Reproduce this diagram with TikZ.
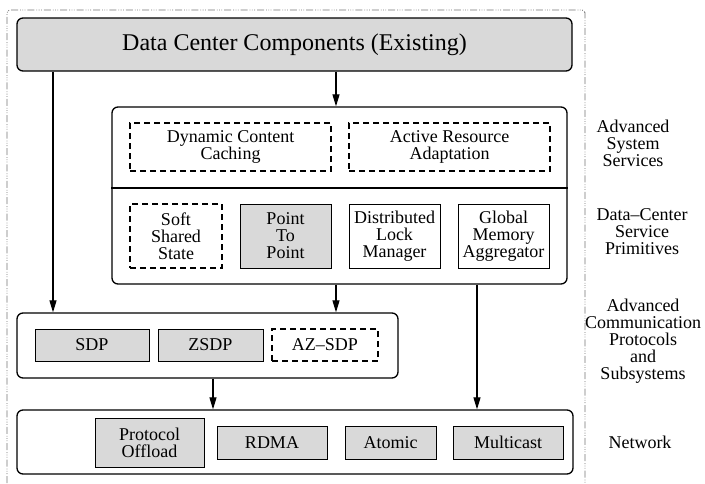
\documentclass[tikz,border=0pt]{standalone}
\usepackage{fontspec}
\setmainfont{Liberation Serif}
\usetikzlibrary{arrows.meta}
\definecolor{boxgray}{HTML}{D9D9D9}
\tikzset{
  lbl/.style={font=\fontsize{18}{17}\selectfont, align=center, inner sep=0pt},
  layer/.style={draw, line width=1.3pt, rounded corners=6pt, inner sep=0pt},
  solidbox/.style={draw, line width=0.9pt, inner sep=0pt, lbl},
  grayboxx/.style={solidbox, fill=boxgray},
  dashbox/.style={solidbox, dashed, dash pattern=on 6pt off 4pt, line width=1.2pt},
  arr/.style={line width=1.2pt, -{Triangle[length=12pt,width=7pt]}},
  frame/.style={draw=black!55, line width=0.9pt,
    dash pattern=on 7pt off 2pt on 0.8pt off 1.5pt on 0.8pt off 1.5pt on 0.8pt off 2pt}
}
\begin{document}
\begin{tikzpicture}[x=1pt, y=-1pt]
\useasboundingbox (0,0) rectangle (705,483);

% outer dash-dot frame, open at the bottom
\draw[frame, rounded corners=3pt] (7,483) -- (7,10) -- (585,10) -- (585,483);

% top layer
\node[layer, fill=boxgray, minimum width=555pt, minimum height=53pt,
      font=\fontsize{24}{26}\selectfont] (top) at (294.5,44.5) {Data Center Components (Existing)};

% services / primitives layer
\node[layer, minimum width=455pt, minimum height=177pt] (svc) at (339.5,195.5) {};
\coordinate (divy) at (0,188);
\draw[line width=1.2pt] (svc.west |- divy) -- (svc.east |- divy);

\node[dashbox, minimum width=201pt, minimum height=48pt] (dcc) at (230.5,147) {Dynamic Content\\Caching};
\node[dashbox, minimum width=201pt, minimum height=48pt] (ara) at (449.5,147) {Active Resource\\Adaptation};

\node[dashbox, minimum width=92pt, minimum height=64pt] (sss) at (176,236) {Soft\\Shared\\State};
\node[grayboxx, minimum width=91pt, minimum height=64pt] (ptp) at (285.5,236) {Point\\To\\Point};
\node[solidbox, minimum width=91pt, minimum height=64pt] (dlm) at (394.5,236) {Distributed\\Lock\\Manager};
\node[solidbox, minimum width=91pt, minimum height=64pt] (gma) at (503.5,236) {Global\\Memory\\Aggregator};

% protocol layer
\node[layer, minimum width=381pt, minimum height=65pt] (proto) at (207.5,345.5) {};
\node[grayboxx, minimum width=114pt, minimum height=32pt] (sdp) at (92,345) {SDP};
\node[grayboxx, minimum width=105pt, minimum height=32pt] (zsdp) at (210.5,345) {ZSDP};
\node[dashbox, minimum width=106pt, minimum height=32pt] (azsdp) at (325,345) {AZ--SDP};

% network layer
\node[layer, minimum width=556pt, minimum height=64pt] (net) at (295,442) {};
\node[grayboxx, minimum width=109pt, minimum height=49pt] (po) at (149.5,442.5) {Protocol\\Offload};
\node[grayboxx, minimum width=110pt, minimum height=33pt] (rdma) at (272,442.5) {RDMA};
\node[grayboxx, minimum width=91pt, minimum height=33pt] (atom) at (390.5,442.5) {Atomic};
\node[grayboxx, minimum width=110pt, minimum height=33pt] (mcast) at (508,442.5) {Multicast};

% connectors
\coordinate (xa) at (53,0);
\coordinate (xb) at (336,0);
\coordinate (xc) at (477,0);
\coordinate (xd) at (213,0);
\draw[arr] (xa |- top.south) -- (xa |- proto.north);
\draw[arr] (xb |- top.south) -- (xb |- svc.north);
\draw[arr] (xb |- svc.south) -- (xb |- proto.north);
\draw[arr] (xc |- svc.south) -- (xc |- net.north);
\draw[arr] (xd |- proto.south) -- (xd |- net.north);

% layer names
\node[lbl] (l1) at (633,143) {Advanced\\System\\Services};
\node[lbl] (l2) at (642,232) {Data--Center\\Service\\Primitives};
\node[lbl] (l3) at (643,341) {Advanced\\Communication\\Protocols\\and\\Subsystems};
\node[lbl] (l4) at (640,442) {Network};
\end{tikzpicture}
\end{document}
